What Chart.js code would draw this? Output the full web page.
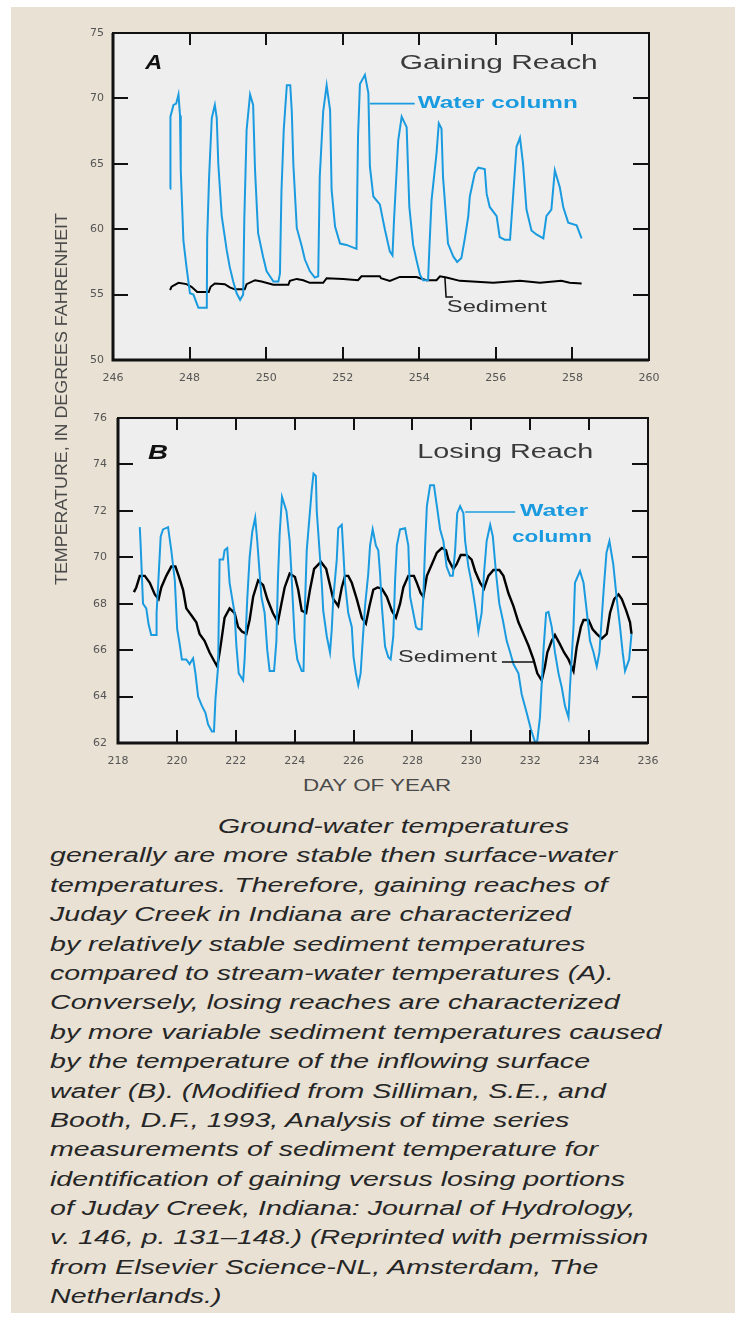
<!DOCTYPE html>
<html>
<head>
<meta charset="utf-8">
<script src="https://cdn.jsdelivr.net/npm/chart.js@4.4.1/dist/chart.umd.min.js"></script>
<style>
  html, body { margin: 0; padding: 0; background: #fff; }
  #page { position: relative; width: 740px; height: 1318px; overflow: hidden; background: #fff; }
  #paper { position: absolute; left: 11px; top: 7px; width: 724px; height: 1306px; background: #e8e1d4; }
  canvas { position: absolute; left: 0; }
  #chartA { top: 0; }
  #chartB { top: 400px; }
  .fit { position: absolute; white-space: nowrap; color: #4a4a4a; font-family: "Liberation Sans", Arial, sans-serif; }
  #ytitle { left: 62px; top: 399px; font-size: 16px; transform-origin: center center; }
  #xtitle { left: 377px; top: 786px; font-size: 16px; transform-origin: center center; }
  #caption { position: absolute; left: 50px; top: 812px; font: italic 20px "Liberation Sans", Arial, sans-serif; color: #262626; }
  #caption div { height: 29.4px; line-height: 29.4px; white-space: nowrap; transform-origin: left center; }
</style>
</head>
<body>
<div id="page">
  <div id="paper"></div>
  <canvas id="chartA" width="740" height="395"></canvas>
  <canvas id="chartB" width="740" height="375"></canvas>
  <div class="fit" id="ytitle">TEMPERATURE, IN DEGREES FAHRENHEIT</div>
  <div class="fit" id="xtitle">DAY OF YEAR</div>
  <div id="caption"></div>
</div>
<script>
// ---- Panel A: gaining reach ----
const aDayTicks = [246, 248, 250, 252, 254, 256, 258, 260];
const aTempTicks = [50, 55, 60, 65, 70, 75];

const aWaterDay = [247.49, 247.50, 247.58, 247.65, 247.71, 247.75, 247.77, 247.84, 247.92, 248.01, 248.10, 248.23, 248.45,
  248.46, 248.51, 248.58, 248.66, 248.71, 248.75, 248.84, 248.97, 249.05, 249.14, 249.23, 249.32, 249.40,
  249.43, 249.49, 249.58, 249.66, 249.71, 249.79, 249.92, 250.01, 250.19, 250.32, 250.36,
  250.40, 250.46, 250.54, 250.63, 250.67, 250.71, 250.80, 250.93, 251.01, 251.14, 251.27, 251.36,
  251.40, 251.49, 251.58, 251.67, 251.71, 251.80, 251.93, 252.10, 252.36,
  252.40, 252.45, 252.58, 252.67, 252.71, 252.80, 252.97, 253.10, 253.23, 253.30,
  253.34, 253.45, 253.54, 253.67, 253.74, 253.84, 253.93, 254.02, 254.10, 254.23,
  254.26, 254.32, 254.45, 254.51, 254.58, 254.62, 254.75, 254.89, 254.99, 255.10,
  255.19, 255.28, 255.32, 255.45, 255.54, 255.71, 255.76, 255.84, 256.02, 256.10, 256.23, 256.37,
  256.45, 256.54, 256.63, 256.71, 256.80, 256.93, 257.06, 257.24,
  257.32, 257.45, 257.54, 257.67, 257.76, 257.89, 258.11, 258.24];
const aWaterTemp = [63.1, 68.6, 69.5, 69.6, 70.3, 68.7, 64.5, 59.1, 57.1, 55.1, 55.0, 54.0, 54.0,
  59.3, 64.0, 68.5, 69.5, 68.5, 65.0, 61.0, 58.4, 57.1, 56.0, 55.1, 54.6, 55.0,
  60.8, 67.6, 70.3, 69.5, 64.5, 59.7, 57.9, 56.8, 56.0, 56.0, 56.6,
  62.9, 67.6, 71.0, 71.0, 69.0, 65.0, 60.1, 58.7, 57.7, 56.8, 56.3, 56.4,
  64.0, 69.0, 71.0, 69.1, 63.0, 60.2, 58.9, 58.8, 58.5,
  67.1, 71.1, 71.8, 70.4, 64.8, 62.5, 61.9, 60.0, 58.3, 58.0,
  60.7, 66.8, 68.6, 67.8, 61.7, 58.8, 57.6, 56.5, 56.1, 56.1,
  58.3, 62.2, 65.8, 68.1, 67.7, 64.0, 58.9, 57.9, 57.5, 57.8,
  59.3, 61.0, 62.5, 64.3, 64.7, 64.6, 62.7, 61.7, 61.0, 59.4, 59.2, 59.2,
  62.5, 66.3, 67.0, 65.0, 61.5, 59.9, 59.6, 59.3,
  61.0, 61.5, 64.5, 63.2, 61.7, 60.5, 60.3, 59.3];

const aSedDay = [247.49, 247.53, 247.71, 247.92, 248.05, 248.20, 248.50, 248.55, 248.66, 248.92, 249.05, 249.18,
  249.44, 249.49, 249.71, 249.88, 250.19, 250.58, 250.62, 250.80, 250.97, 251.14, 251.49, 251.58,
  252.01, 252.40, 252.49, 252.97, 253.00, 253.23, 253.49, 253.93, 254.02, 254.19, 254.45, 254.54,
  254.71, 255.06, 255.93, 256.63, 257.15, 257.71, 257.93, 258.24];
const aSedTemp = [55.35, 55.6, 55.9, 55.8, 55.6, 55.2, 55.2, 55.6, 55.85, 55.8, 55.55, 55.4,
  55.4, 55.8, 56.1, 56.0, 55.75, 55.75, 56.05, 56.2, 56.1, 55.9, 55.9, 56.25,
  56.2, 56.1, 56.4, 56.4, 56.25, 56.05, 56.35, 56.35, 56.25, 56.1, 56.1, 56.4,
  56.3, 56.05, 55.9, 56.05, 55.9, 56.05, 55.9, 55.85];

// ---- Panel B: losing reach ----
const bDayTicks = [218, 220, 222, 224, 226, 228, 230, 232, 234, 236];
const bTempTicks = [62, 64, 66, 68, 70, 72, 74, 76];

const bWaterDay = [218.74, 218.77, 218.85, 218.96, 219.04, 219.13, 219.30, 219.31, 219.38, 219.45, 219.53, 219.70,
  219.81, 219.93, 220.01, 220.09, 220.17, 220.32, 220.43, 220.55, 220.63, 220.72, 220.85, 220.97,
  221.06, 221.19, 221.26, 221.31, 221.40, 221.45, 221.57, 221.62, 221.71, 221.79, 221.96, 222.02,
  222.10, 222.25, 222.30, 222.39, 222.47, 222.56, 222.66, 222.73, 222.81, 222.87, 222.98, 223.07,
  223.15, 223.30, 223.38, 223.43, 223.49, 223.57, 223.72, 223.83, 223.89, 224.00, 224.09, 224.24,
  224.30, 224.35, 224.41, 224.58, 224.64, 224.72, 224.75, 224.86, 224.92, 224.97, 225.09, 225.20,
  225.26, 225.31, 225.43, 225.48, 225.60, 225.65, 225.71, 225.82, 225.94, 226.00, 226.08, 226.16,
  226.24, 226.31, 226.39, 226.50, 226.56, 226.65, 226.76, 226.84, 226.90, 226.96, 227.07, 227.18,
  227.26, 227.35, 227.41, 227.47, 227.58, 227.75, 227.86, 227.92, 228.03, 228.12, 228.20, 228.31,
  228.37, 228.43, 228.49, 228.60, 228.73, 228.83, 228.94, 229.05, 229.16, 229.28, 229.37, 229.45,
  229.52, 229.62, 229.73, 229.79, 229.90, 230.01, 230.13, 230.24, 230.35, 230.43, 230.52, 230.64,
  230.73, 230.84, 230.95, 231.07, 231.20, 231.32, 231.43, 231.60, 231.71, 231.88, 232.02, 232.16,
  232.24, 232.33, 232.45, 232.54, 232.62, 232.73, 232.84, 232.96, 233.07, 233.18, 233.30, 233.35,
  233.47, 233.52, 233.69, 233.81, 233.90, 234.03, 234.15, 234.26, 234.35, 234.43, 234.50, 234.59,
  234.69, 234.82, 234.94, 235.05, 235.14, 235.22, 235.36, 235.44];
const bWaterTemp = [71.3, 70.5, 68.0, 67.8, 67.1, 66.65, 66.65, 67.6, 69.2, 70.9, 71.2, 71.3,
  70.3, 69.0, 66.9, 66.3, 65.6, 65.6, 65.4, 65.65, 65.0, 64.0, 63.6, 63.3,
  62.8, 62.5, 62.5, 63.9, 65.3, 69.9, 69.9, 70.3, 70.4, 68.9, 67.6, 66.2,
  65.0, 64.7, 65.6, 68.2, 70.0, 71.1, 71.7, 70.7, 69.3, 68.3, 67.6, 66.0,
  65.1, 65.1, 66.4, 69.0, 71.0, 72.6, 72.0, 70.7, 69.3, 66.5, 65.6, 65.1,
  65.1, 67.9, 70.3, 72.9, 73.6, 73.5, 72.0, 70.0, 68.9, 67.7, 66.6, 65.9,
  66.9, 68.2, 69.9, 71.25, 71.4, 70.3, 68.9, 67.6, 67.0, 65.7, 65.0, 64.5,
  65.0, 66.4, 67.9, 69.3, 70.5, 71.2, 70.5, 70.3, 69.3, 67.9, 66.15, 65.7,
  65.6, 66.6, 69.0, 70.5, 71.2, 71.25, 70.5, 68.3, 67.6, 67.0, 66.9, 66.9,
  68.3, 70.5, 72.2, 73.1, 73.1, 72.2, 71.2, 70.7, 69.6, 69.2, 69.2, 70.3,
  71.9, 72.2, 71.9, 70.7, 69.6, 68.9, 67.9, 66.8, 67.6, 69.3, 70.7, 71.4,
  70.9, 69.3, 68.0, 67.3, 66.4, 65.9, 65.4, 65.0, 64.1, 63.3, 62.6, 62.05,
  62.1, 63.1, 66.0, 67.6, 67.65, 67.0, 65.9, 65.0, 64.4, 63.6, 63.1, 64.4,
  67.0, 68.9, 69.4, 68.9, 67.9, 66.4, 65.9, 65.3, 65.9, 67.4, 68.7, 70.2,
  70.7, 69.7, 68.2, 67.0, 65.9, 65.1, 65.6, 66.7];

const bSedDay = [218.54, 218.62, 218.74, 218.91, 219.08, 219.25, 219.38, 219.47, 219.64, 219.81, 219.95, 220.06,
  220.21, 220.32, 220.49, 220.66, 220.77, 220.94, 221.11, 221.28, 221.37, 221.45, 221.51, 221.62,
  221.79, 221.96, 222.08, 222.21, 222.36, 222.47, 222.59, 222.76, 222.93, 223.07, 223.26, 223.43,
  223.55, 223.66, 223.83, 224.01, 224.12, 224.24, 224.39, 224.52, 224.66, 224.89, 225.07, 225.18,
  225.31, 225.48, 225.60, 225.71, 225.82, 225.94, 226.11, 226.28, 226.42, 226.54, 226.67, 226.81,
  226.96, 227.13, 227.30, 227.44, 227.58, 227.69, 227.86, 228.05, 228.15, 228.28, 228.37, 228.49,
  228.66, 228.83, 229.00, 229.14, 229.22, 229.39, 229.50, 229.64, 229.84, 230.01, 230.13, 230.30,
  230.43, 230.58, 230.75, 230.95, 231.09, 231.26, 231.43, 231.60, 231.77, 231.94, 232.11, 232.24,
  232.39, 232.50, 232.58, 232.73, 232.84, 232.99, 233.15, 233.30, 233.47, 233.58, 233.72, 233.81,
  233.98, 234.12, 234.26, 234.43, 234.60, 234.71, 234.85, 235.00, 235.11, 235.26, 235.39, 235.44];
const bSedTemp = [68.5, 68.7, 69.2, 69.2, 68.9, 68.4, 68.2, 68.7, 69.2, 69.6, 69.6, 69.2,
  68.6, 67.8, 67.5, 67.2, 66.7, 66.4, 65.9, 65.5, 65.3, 65.9, 66.4, 67.4,
  67.8, 67.6, 67.0, 66.8, 66.7, 67.3, 68.3, 69.0, 68.8, 68.2, 67.6, 67.2,
  68.0, 68.7, 69.3, 69.15, 68.6, 67.7, 67.6, 68.6, 69.5, 69.8, 69.5, 68.9,
  68.2, 67.9, 68.7, 69.2, 69.2, 68.9, 68.2, 67.4, 67.15, 67.9, 68.6, 68.7,
  68.65, 68.3, 67.7, 67.4, 68.0, 68.7, 69.2, 69.2, 68.9, 68.45, 68.3, 69.2,
  69.7, 70.2, 70.4, 70.3, 69.9, 69.5, 69.7, 70.1, 70.1, 69.9, 69.4, 68.9,
  68.65, 69.2, 69.45, 69.45, 69.2, 68.45, 67.9, 67.2, 66.7, 66.2, 65.6, 65.0,
  64.7, 65.3, 65.9, 66.4, 66.65, 66.3, 65.9, 65.6, 65.1, 66.15, 67.0, 67.3,
  67.3, 66.9, 66.7, 66.5, 66.7, 67.6, 68.2, 68.4, 68.2, 67.7, 67.2, 66.7];

const captionLines = [
  "Ground-water temperatures",
  "generally are more stable then surface-water",
  "temperatures. Therefore, gaining reaches of",
  "Juday Creek in Indiana are characterized",
  "by relatively stable sediment temperatures",
  "compared to stream-water temperatures (A).",
  "Conversely, losing reaches are characterized",
  "by more variable sediment temperatures caused",
  "by the temperature of the inflowing surface",
  "water (B). (Modified from Silliman, S.E., and",
  "Booth, D.F., 1993, Analysis of time series",
  "measurements of sediment temperature for",
  "identification of gaining versus losing portions",
  "of Juday Creek, Indiana: Journal of Hydrology,",
  "v. 146, p. 131\u2013148.) (Reprinted with permission",
  "from Elsevier Science-NL, Amsterdam, The",
  "Netherlands.)"
];

const BLUE = '#1a9be0';
const SANS = '"Liberation Sans", Arial, sans-serif';

// draw text squeezed/stretched to a given width
function fitText(ctx, text, x, y, w, font, color, align) {
  ctx.font = font;
  const k = w / ctx.measureText(text).width;
  ctx.save();
  ctx.translate(x, y);
  ctx.scale(k, 1);
  ctx.fillStyle = color;
  ctx.textBaseline = 'middle';
  ctx.textAlign = align || 'left';
  ctx.fillText(text, 0, 0);
  ctx.restore();
}

const framePlugin = {
  id: 'frame',
  beforeDraw(chart) {
    const { ctx, chartArea: a } = chart;
    ctx.save();
    ctx.fillStyle = '#eeeeee';
    ctx.fillRect(a.left, a.top, a.right - a.left, a.bottom - a.top);
    ctx.restore();
  },
  afterDraw(chart, args, opts) {
    const { ctx, chartArea: a, scales: { x, y } } = chart;
    ctx.save();
    ctx.strokeStyle = '#111';
    ctx.lineWidth = 2;
    ctx.beginPath();
    x.ticks.forEach(t => {
      const px = Math.round(x.getPixelForValue(t.value));
      if (px <= a.left + 2 || px >= a.right - 2) return;
      ctx.moveTo(px, a.top); ctx.lineTo(px, a.top + 12);
      ctx.moveTo(px, a.bottom); ctx.lineTo(px, a.bottom - 13);
    });
    y.ticks.forEach(t => {
      const py = Math.round(y.getPixelForValue(t.value));
      if (py <= a.top + 2 || py >= a.bottom - 2) return;
      ctx.moveTo(a.left, py); ctx.lineTo(a.left + 15, py);
      ctx.moveTo(a.right, py); ctx.lineTo(a.right - 16, py);
    });
    ctx.stroke();
    // box: heavier left and bottom
    ctx.lineWidth = 2;
    ctx.strokeRect(a.left, a.top, a.right - a.left, a.bottom - a.top);
    ctx.lineWidth = 3;
    ctx.beginPath();
    ctx.moveTo(a.left, a.top); ctx.lineTo(a.left, a.bottom); ctx.lineTo(a.right, a.bottom);
    ctx.stroke();

    (opts.leaders || []).forEach(l => {
      ctx.strokeStyle = l.color;
      ctx.lineWidth = 1.6;
      ctx.beginPath();
      l.pts.forEach((p, i) => {
        const px = x.getPixelForValue(p[0]), py = y.getPixelForValue(p[1]);
        if (i === 0) ctx.moveTo(px, py); else ctx.lineTo(px, py);
      });
      ctx.stroke();
    });
    (opts.notes || []).forEach(n => {
      fitText(ctx, n.text, x.getPixelForValue(n.x), y.getPixelForValue(n.y), n.w, n.font, n.color, n.align);
    });
    ctx.restore();
  }
};

function pairs(days, temps) {
  return days.map((d, i) => ({ x: d, y: temps[i] }));
}

function makeChart(id, cfg) {
  return new Chart(document.getElementById(id), {
    type: 'line',
    data: {
      datasets: [
        { label: 'Water column', data: pairs(cfg.waterDay, cfg.waterTemp), borderColor: BLUE, borderWidth: 2, pointRadius: 0, tension: 0 },
        { label: 'Sediment', data: pairs(cfg.sedDay, cfg.sedTemp), borderColor: '#000', borderWidth: cfg.sedWidth, pointRadius: 0, tension: 0 }
      ]
    },
    options: {
      responsive: false,
      animation: false,
      events: [],
      layout: { padding: cfg.padding },
      plugins: {
        legend: { display: false },
        tooltip: { enabled: false },
        frame: { notes: cfg.notes, leaders: cfg.leaders }
      },
      scales: {
        x: {
          type: 'linear', min: cfg.dayTicks[0], max: cfg.dayTicks[cfg.dayTicks.length - 1],
          afterBuildTicks: s => { s.ticks = cfg.dayTicks.map(v => ({ value: v })); },
          afterFit: s => { s.height = cfg.xHeight; },
          grid: { display: false, drawTicks: false },
          border: { display: false },
          ticks: { padding: 12, color: '#555', font: { family: '"DejaVu Sans"', size: 11 }, maxRotation: 0, autoSkip: false }
        },
        y: {
          type: 'linear', min: cfg.tempTicks[0], max: cfg.tempTicks[cfg.tempTicks.length - 1],
          afterBuildTicks: s => { s.ticks = cfg.tempTicks.map(v => ({ value: v })); },
          afterFit: s => { s.width = cfg.yWidth; },
          grid: { display: false, drawTicks: false },
          border: { display: false },
          ticks: { padding: cfg.yPad, color: '#555', font: { family: '"DejaVu Sans"', size: 11 }, autoSkip: false }
        }
      }
    },
    plugins: [framePlugin]
  });
}

makeChart('chartA', {
  waterDay: aWaterDay, waterTemp: aWaterTemp, sedDay: aSedDay, sedTemp: aSedTemp, sedWidth: 2,
  dayTicks: aDayTicks, tempTicks: aTempTicks,
  padding: { top: 33, right: 91, left: 0, bottom: 0 }, xHeight: 35, yWidth: 113, yPad: 9,
  notes: [
    { text: 'A', x: 246.84, y: 72.7, w: 17, font: 'italic bold 21px ' + SANS, color: '#111' },
    { text: 'Gaining Reach', x: 253.49, y: 72.7, w: 198, font: '20px ' + SANS, color: '#3a3a3a' },
    { text: 'Water column', x: 253.96, y: 69.6, w: 160, font: 'bold 16px ' + SANS, color: BLUE },
    { text: 'Sediment', x: 254.72, y: 53.98, w: 100, font: '16px ' + SANS, color: '#333' }
  ],
  leaders: [
    { color: BLUE, pts: [[252.71, 69.6], [253.88, 69.6]] },
    { color: '#111', pts: [[254.67, 56.27], [254.70, 54.82], [254.88, 54.82]] }
  ]
});

makeChart('chartB', {
  waterDay: bWaterDay, waterTemp: bWaterTemp, sedDay: bSedDay, sedTemp: bSedTemp, sedWidth: 2.4,
  dayTicks: bDayTicks, tempTicks: bTempTicks,
  padding: { top: 18, right: 92, left: 0, bottom: 0 }, xHeight: 32, yWidth: 118, yPad: 11,
  notes: [
    { text: 'B', x: 219.02, y: 74.5, w: 20, font: 'italic bold 21px ' + SANS, color: '#111' },
    { text: 'Losing Reach', x: 228.16, y: 74.53, w: 176, font: '20px ' + SANS, color: '#3a3a3a' },
    { text: 'Water', x: 232.81, y: 71.95, w: 68, font: 'bold 16px ' + SANS, color: BLUE, align: 'center' },
    { text: 'column', x: 232.74, y: 70.83, w: 80, font: 'bold 16px ' + SANS, color: BLUE, align: 'center' },
    { text: 'Sediment', x: 227.51, y: 65.66, w: 99, font: '16px ' + SANS, color: '#333' }
  ],
  leaders: [
    { color: BLUE, pts: [[229.79, 71.95], [231.49, 71.95]] },
    { color: '#111', pts: [[231.04, 65.49], [232.10, 65.49]] }
  ]
});

// axis titles and caption: fit widths to the reference layout
const mctx = document.createElement('canvas').getContext('2d');
function widthOf(text, font) { mctx.font = font; return mctx.measureText(text).width; }

const yt = document.getElementById('ytitle');
const ykx = 372 / widthOf(yt.textContent, '16px ' + SANS);
yt.style.transform = 'translate(-50%, -50%) rotate(-90deg) scaleX(' + ykx + ')';

const xt = document.getElementById('xtitle');
const xkx = 149 / widthOf(xt.textContent, '16px ' + SANS);
xt.style.transform = 'translate(-50%, -50%) scaleX(' + xkx + ')';

const cap = document.getElementById('caption');
const ck = 567 / widthOf(captionLines[1], 'italic 20px ' + SANS);
captionLines.forEach((t, i) => {
  const d = document.createElement('div');
  d.textContent = t;
  d.style.transform = 'scaleX(' + ck + ')';
  if (i === 0) d.style.marginLeft = '168px';
  cap.appendChild(d);
});
</script>
</body>
</html>
